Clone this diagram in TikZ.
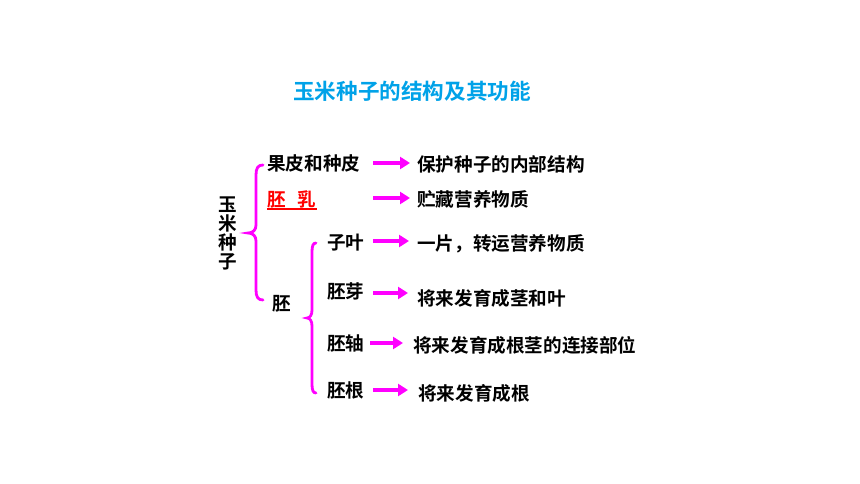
\documentclass[tikz,border=0pt]{standalone}
\usepackage{fontspec}
\setmainfont{Noto Sans CJK SC}[BoldFont={Noto Sans CJK SC Bold}]
\usetikzlibrary{arrows.meta}
\definecolor{titlecyan}{RGB}{0,162,232}
\definecolor{mag}{RGB}{255,0,255}
\definecolor{redtxt}{RGB}{255,0,0}
\begin{document}
\begin{tikzpicture}[x=1pt,y=-1pt,
  lbl/.style={anchor=west,inner sep=0pt,font=\bfseries\fontsize{18.6}{21}\selectfont},
  arr/.style={mag,line width=3.6pt,-{Triangle[length=10pt,width=12pt]}},
  brc/.style={mag,line width=2.8pt,line cap=round}]
\useasboundingbox (0,0) rectangle (860,484);
\node[inner sep=0pt,text=titlecyan,font=\bfseries\fontsize{21.6}{24}\selectfont] (title) at (412,91) {玉米种子的结构及其功能};
% root
\node[inner sep=0pt,align=center,font=\bfseries\fontsize{18.6}{19}\selectfont] (root) at (228,233) {玉\\米\\种\\子};
% level 1
\node[lbl] (gp) at (267,163) {果皮和种皮};
\node[lbl,text=redtxt] (pr) at (267,199) {胚\hspace{0.65em}乳};
\draw[redtxt,line width=1.3pt] ([yshift=-1pt]pr.south west) -- ([yshift=-1pt]pr.south east);
\node[lbl] (pei) at (272,304) {胚};
% level 2
\node[lbl] (zy) at (327,243) {子叶};
\node[lbl] (py) at (327,291) {胚芽};
\node[lbl] (pz) at (327,343) {胚轴};
\node[lbl] (pg) at (327,390) {胚根};
% functions
\node[lbl] (f1) at (417,164) {保护种子的内部结构};
\node[lbl] (f2) at (417,199) {贮藏营养物质};
\node[lbl] (f3) at (417,244) {一片，转运营养物质};
\node[lbl] (f4) at (417,298) {将来发育成茎和叶};
\node[lbl] (f5) at (413,345) {将来发育成根茎的连接部位};
\node[lbl] (f6) at (418,393) {将来发育成根};
% braces
\draw[brc] (263,165) .. controls (258,165) and (256,168) .. (256,175) -- (256,225)
  .. controls (256,230) and (253,233) .. (248,233)
  .. controls (253,233) and (256,236) .. (256,241) -- (256,290)
  .. controls (256,297) and (258,300) .. (263,300);
\draw[brc] (316,243) .. controls (313,243) and (312,246) .. (312,252) -- (312,310)
  .. controls (312,315) and (310,318) .. (307,318)
  .. controls (310,318) and (312,321) .. (312,326) -- (312,384)
  .. controls (312,390) and (313,393) .. (316,393);
% arrows
\coordinate (a1) at (373,163); \coordinate (b1) at (410,163);
\coordinate (a2) at (373,198); \coordinate (b2) at (410,198);
\coordinate (a3) at (373,241); \coordinate (b3) at (409,241);
\coordinate (a4) at (373,293); \coordinate (b4) at (408,293);
\coordinate (a5) at (370,343); \coordinate (b5) at (403,343);
\coordinate (a6) at (373,390); \coordinate (b6) at (408,390);
\foreach \i in {1,...,6} {\draw[arr] (a\i) -- (b\i);}
\end{tikzpicture}
\end{document}
